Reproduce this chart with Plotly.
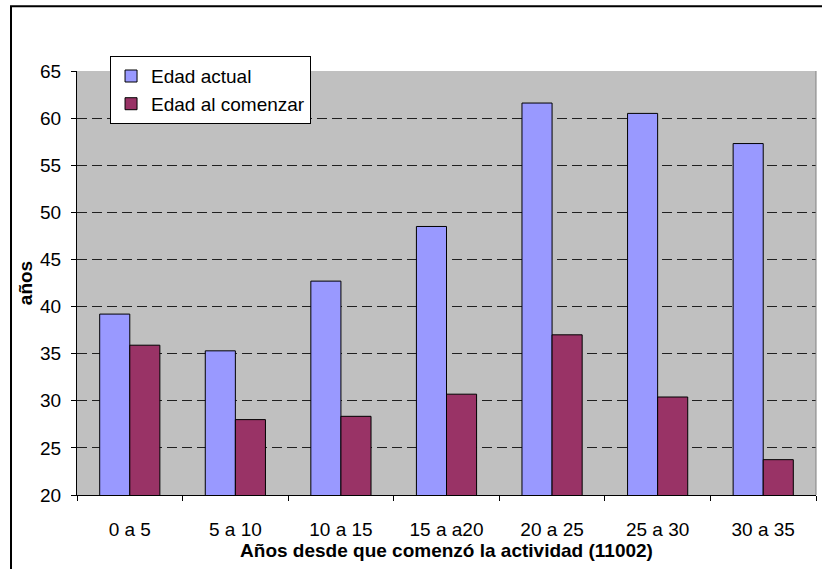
import plotly.graph_objects as go

categorias = ["0 a 5", "5 a 10", "10 a 15", "15 a a20", "20 a 25", "25 a 30", "30 a 35"]
edad_actual = [39.2, 35.3, 42.7, 48.5, 61.6, 60.5, 57.3]
edad_comenzar = [35.9, 28.0, 28.35, 30.7, 37.0, 30.4, 23.75]
y_ticks = [20, 25, 30, 35, 40, 45, 50, 55, 60, 65]

FONT = "Liberation Sans, Arial, sans-serif"

fig = go.Figure()
fig.add_trace(go.Bar(x=categorias, y=edad_actual, name="Edad actual",
                     marker=dict(color="#9999FF", line=dict(color="black", width=1))))
fig.add_trace(go.Bar(x=categorias, y=edad_comenzar, name="Edad al comenzar",
                     marker=dict(color="#993366", line=dict(color="black", width=1))))

fig.update_layout(
    width=822, height=569,
    margin=dict(l=77, r=6, t=71, b=74),
    paper_bgcolor="white",
    plot_bgcolor="#C0C0C0",
    barmode="group", bargap=0.43, bargroupgap=0,
    font=dict(family=FONT, size=19, color="black"),
    showlegend=True,
    legend=dict(x=0.0447, y=1.035, xanchor="left", yanchor="top",
                bgcolor="white", bordercolor="black", borderwidth=1,
                font=dict(size=19), tracegroupgap=0, itemwidth=30),
    xaxis=dict(
        showline=True, linecolor="black", linewidth=1,
        ticks="outside", tickson="boundaries", ticklen=5, tickcolor="black",
        ticklabelstandoff=17,
        showgrid=False,
        title=dict(text="<b>Años desde que comenzó la actividad (11002)</b>",
                   font=dict(size=19), standoff=2),
    ),
    yaxis=dict(
        range=[20, 65], tickvals=y_ticks,
        showline=True, linecolor="black", linewidth=1,
        ticks="outside", ticklen=5, tickcolor="black",
        ticklabelstandoff=6,
        showgrid=True, gridcolor="#202020", gridwidth=1, griddash="10px,5px",
        zeroline=False,
        title=dict(text="<b>años</b>", font=dict(size=19), standoff=2),
    ),
    shapes=[
        dict(type="rect", xref="paper", yref="paper",
             x0=-0.0893, x1=1.2, y0=-0.5, y1=1.153,
             line=dict(color="black", width=2), fillcolor="rgba(0,0,0,0)", layer="below"),
        dict(type="line", xref="paper", yref="paper", x0=1, x1=1, y0=0, y1=1,
             line=dict(color="#808080", width=1)),
    ],
)

fig.write_html("out.html", config={"displayModeBar": False},
               post_script="document.body.style.margin='0';")
